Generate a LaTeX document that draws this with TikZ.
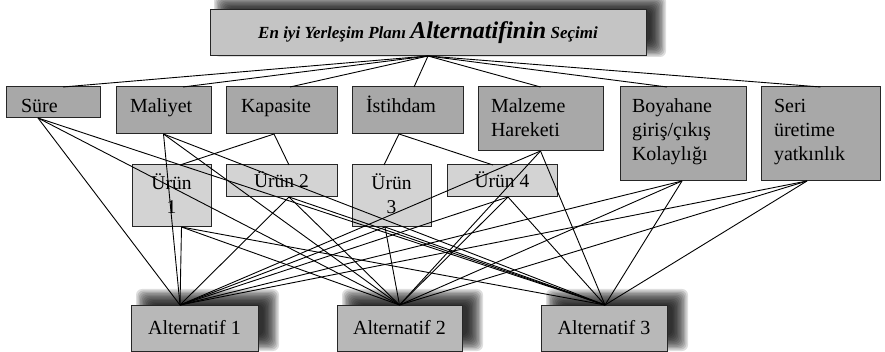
\documentclass[tikz,border=0pt]{standalone}
\usepackage{fontspec}
\setmainfont{Liberation Serif}
\definecolor{critgray}{HTML}{A8A8A8}
\definecolor{subgray}{HTML}{D3D3D3}
\definecolor{topgray}{HTML}{C4C4C4}
\definecolor{altgray}{HTML}{B8B8B8}
% left-aligned text box: width, height, left pad, first baseline, text
\newcommand\lftbox[5]{\parbox[c][#2pt][t]{#1pt}{\fontsize{20}{24}\selectfont\parindent=0pt\leftskip=#3pt\rightskip=0pt plus 1fil\rule{0pt}{#4pt}#5\par}}
% centred text box: width, height, first baseline, text
\newcommand\ctrbox[4]{\parbox[c][#2pt][t]{#1pt}{\fontsize{19.5}{23.5}\selectfont\parindent=0pt\centering\rule{0pt}{#3pt}#4\par}}
% soft shadow: x1,y1,x2,y2 of box, shift dx,dy
\newcommand\softshadow[6]{%
  \foreach \i in {0,...,11}{%
    \fill[black,opacity=0.13,rounded corners=6pt] (#1+#5-8+1.4*\i, #2+#6-8+1.4*\i) rectangle (#3+#5+8-1.4*\i, #4+#6+8-1.4*\i);}}
\tikzset{
  box/.style={draw=black!85, line width=1pt, inner sep=0pt, outer sep=0pt, anchor=north west},
  crit/.style={box, fill=critgray},
  sub/.style={box, fill=subgray},
  goal/.style={box, fill=topgray, minimum height=46pt},
  alt/.style={box, fill=altgray, minimum height=46pt, font=\fontsize{20}{24}\selectfont},
  link/.style={line width=0.9pt, black}
}
\begin{document}
\begin{tikzpicture}[x=1pt, y=-1pt]
\useasboundingbox (0,0) rectangle (885,352);
% shadows
\softshadow{210}{10}{646}{56}{12}{-7}
\softshadow{131}{305}{258}{351}{13}{-8}
\softshadow{337}{305}{462}{351}{13}{-8}
\softshadow{541}{305}{667}{351}{13}{-8}
% goal
\node[goal, minimum width=436pt] (top) at (210,10)
  {\bfseries\itshape\fontsize{17}{20}\selectfont En iyi Yerleşim Planı {\fontsize{24}{26}\selectfont Alternatifinin} Seçimi};
% criteria
\node[crit] (sure) at (6,87)   {\lftbox{94}{31}{15}{26}{Süre}};
\node[crit] (mal)  at (116,87) {\lftbox{95}{47}{14}{26}{Maliyet}};
\node[crit] (kap)  at (226,87) {\lftbox{111}{47}{15}{26}{Kapasite}};
\node[crit] (ist)  at (352,87) {\lftbox{111}{47}{14}{26}{İstihdam}};
\node[crit] (malz) at (478,87) {\lftbox{125}{64}{13}{26}{Malzeme\\Hareketi}};
\node[crit] (boy)  at (620,87) {\lftbox{126}{94}{12}{26}{Boyahane\\giriş/çıkış\\Kolaylığı}};
\node[crit] (seri) at (761,87) {\lftbox{119}{94}{13}{26}{Seri\\üretime\\yatkınlık}};
% sub-criteria
\node[sub] (u1) at (132,165) {\ctrbox{79}{62}{25}{Ürün\\1}};
\node[sub] (u2) at (226,165) {\ctrbox{111}{32}{23}{Ürün 2}};
\node[sub] (u3) at (352,165) {\ctrbox{79}{62}{25}{Ürün\\3}};
\node[sub] (u4) at (447,165) {\ctrbox{110}{32}{23}{Ürün 4}};
% alternatives
\node[alt, minimum width=127pt] (a1) at (131,305) {Alternatif 1};
\node[alt, minimum width=125pt] (a2) at (337,305) {Alternatif 2};
\node[alt, minimum width=126pt] (a3) at (541,305) {Alternatif 3};
% goal to criteria
\foreach \c/\cx in {sure/10, mal/19.5, kap/8.5, ist/6.5, malz/0, boy/-16, seri/0}
  \draw[link] (top.south) -- ([xshift=\cx pt]\c.north);
% criteria to sub-criteria
\draw[link] ([xshift=-7.5pt]kap.south) -- ([xshift=8.5pt]u1.north);
\draw[link] ([xshift=-7.5pt]kap.south) -- ([xshift=7.5pt]u2.north);
\draw[link] ([xshift=-8.5pt]ist.south) -- ([xshift=-7.5pt]u3.north);
\draw[link] ([xshift=-8.5pt]ist.south) -- ([xshift=-9pt]u4.north);
% leaves to alternatives
\foreach \s/\sx in {sure/-15, mal/0, u1/10, u2/7.5, u3/-6.5, u4/6, malz/0, boy/-1, seri/-13.5}
  \foreach \a/\ax in {a1/-14.5, a2/0, a3/1}
    \draw[link] ([xshift=\sx pt]\s.south) -- ([xshift=\ax pt]\a.north);
\end{tikzpicture}
\end{document}
